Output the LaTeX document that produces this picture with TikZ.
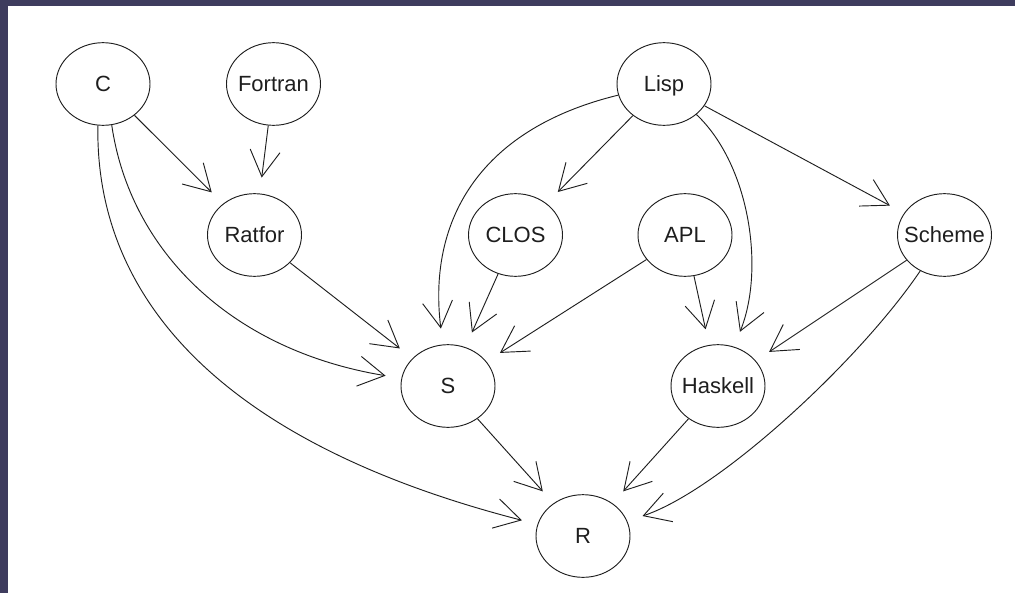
\documentclass[tikz,border=0pt]{standalone}
\usepackage{fontspec}
\setmainfont{Liberation Sans}
\usetikzlibrary{arrows.meta,shapes.geometric}
\definecolor{band}{RGB}{62,60,94}
\definecolor{ink}{RGB}{30,30,30}
\begin{document}
\begin{tikzpicture}[x=0.75pt,y=-0.75pt,
  lang/.style={ellipse, draw=ink, line width=0.7pt, minimum width=70.5pt,
    minimum height=62pt, inner sep=0pt, text=ink,
    font=\fontsize{16.5}{18}\selectfont, text height=11.8pt, text depth=0pt},
  edge/.style={draw=ink, line width=0.7pt, shorten >=12pt,
    -{Straight Barb[length=19.5pt,width=22.5pt]}}]
\useasboundingbox (0,0) rectangle (1015,593);
\fill[band] (0,0) rectangle (8,593);
\fill[band] (0,0) rectangle (1015,6);
% nodes
\node[lang] (C)       at (103,84)    {\makebox[0pt]{C}};
\node[lang] (Fortran) at (273.5,84)  {\makebox[0pt]{Fortran}};
\node[lang] (Lisp)    at (664,84)    {\makebox[0pt]{Lisp}};
\node[lang] (Ratfor)  at (254.5,235) {\makebox[0pt]{Ratfor}};
\node[lang] (CLOS)    at (515.5,235) {\makebox[0pt]{CLOS}};
\node[lang] (APL)     at (685,235)   {\makebox[0pt]{APL}};
\node[lang] (Scheme)  at (944.5,235) {\makebox[0pt]{Scheme}};
\node[lang] (S)       at (448,386)   {\makebox[0pt]{S}};
\node[lang] (Haskell) at (718,386)   {\makebox[0pt]{Haskell}};
\node[lang] (R)       at (583,536)   {\makebox[0pt]{R}};
% straight edges
\draw[edge] (C) -- (Ratfor);
\draw[edge] (Fortran) -- (Ratfor);
\draw[edge] (Ratfor) -- (S);
\draw[edge] (Lisp) -- (CLOS);
\draw[edge] (Lisp) -- (Scheme);
\draw[edge] (CLOS) -- (S);
\draw[edge] (APL) -- (S);
\draw[edge] (APL) -- (Haskell);
\draw[edge] (Scheme) -- (Haskell);
\draw[edge] (S) -- (R);
\draw[edge] (Haskell) -- (R);
% curved edges
\draw[edge] (C.-97) .. controls (95,290) and (210,440) .. (R);
\draw[edge] (C.-78) .. controls (130,250) and (230,350) .. (S);
\draw[edge] (Lisp) .. controls (475,130) and (428,225) .. (S);
\draw[edge] (Lisp) .. controls (750,165) and (765,270) .. (Haskell);
\draw[edge] (Scheme) .. controls (860,360) and (720,490) .. (R);
\end{tikzpicture}
\end{document}
